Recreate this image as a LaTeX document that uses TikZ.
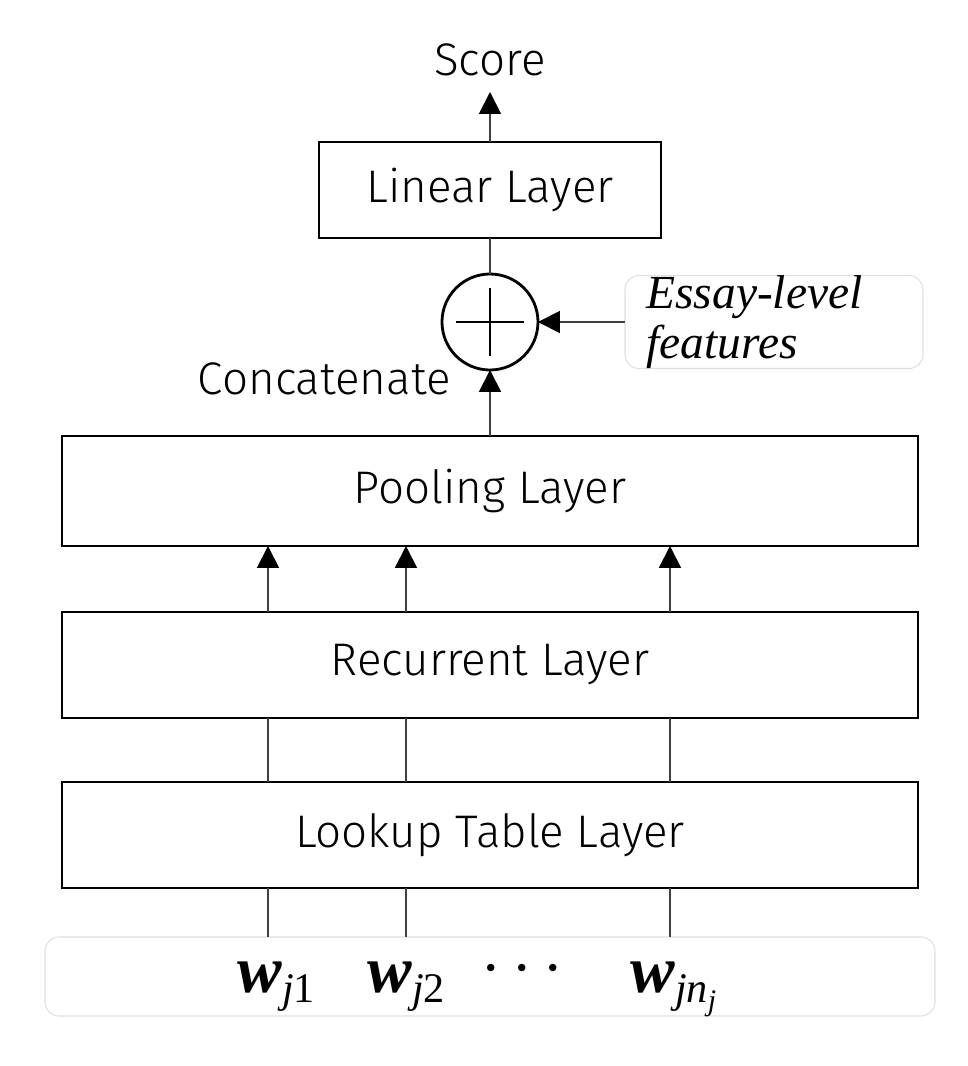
\documentclass[tikz,border=0pt]{standalone}
\usepackage{amsmath, amssymb}
\usepackage{fontspec}
\setmainfont{Fira Sans Light}
\newfontfamily\essayfont{Liberation Serif}
\usepackage{tikz}
\usetikzlibrary{arrows.meta, positioning, calc}
\tikzstyle{layer} = [rectangle, draw, line width=1.6pt, minimum height=2.12cm, minimum width=17.12cm, inner sep=0pt, outer sep=0pt, font=\fontsize{26}{30}\selectfont]
\tikzstyle{softbox} = [rectangle, draw=gray!25, rounded corners=8pt, line width=0.6pt, outer sep=0pt]
\tikzstyle{arrow} = [line width=1.1pt, draw=black!75, -{Triangle[length=0.44cm, width=0.44cm, black]}]
\tikzstyle{link} = [line width=1.1pt, draw=black!75]
\tikzstyle{word} = [font=\essayfont\fontsize{38}{38}\selectfont, inner sep=0pt]
\tikzstyle{caption} = [font=\fontsize{26}{30}\selectfont]

\begin{document}
\begin{tikzpicture}
    \useasboundingbox (-9.8,-1.79) rectangle (9.56,19.53);

    % Nodes - input words and layer stack
    \node (input) [softbox, minimum width=17.8cm, minimum height=1.58cm] at (0,0) {};
    \node (lookup) [layer, above=0.98cm of input] {Lookup Table Layer};
    \node (recur) [layer, above=1.28cm of lookup] {Recurrent Layer};
    \node (pool) [layer, above=1.32cm of recur, minimum height=2.2cm] {Pooling Layer};

    % Top part
    \node (plus) [circle, draw, line width=1.6pt, outer sep=0pt, minimum size=1.92cm, above=1.32cm of pool] {};
    \node (linear) [layer, minimum width=6.84cm, minimum height=1.92cm, above=0.72cm of plus] {Linear Layer};
    \node (score) [caption, inner sep=0pt, outer sep=0.32cm, above=1cm of linear] {Score};
    \node (essay) [softbox, right=1.74cm of plus, minimum width=5.96cm, minimum height=1.86cm, inner sep=0pt, text width=5.1cm, align=left, font=\essayfont\fontsize{27}{28}\selectfont\itshape] {Essay-level\\features};
    \node (concat) [caption, inner sep=0pt, anchor=base east] at ($(plus.south)+(-0.78,-0.5)$) {Concatenate};

    % Columns and words
    \coordinate (c1) at (-4.44,0);
    \coordinate (c2) at (-1.68,0);
    \coordinate (c3) at (3.6,0);
    \node (w1) [word, anchor=base west] at ($(c1)+(-0.62,-0.31)$) {\textbf{\textit{w}}\raisebox{-0.22cm}{\fontsize{24}{24}\selectfont\textit{j}1}};
    \node (w2) [word, anchor=base west] at ($(c2)+(-0.78,-0.31)$) {\textbf{\textit{w}}\raisebox{-0.22cm}{\fontsize{24}{24}\selectfont\textit{j}2}};
    \node (dots) [font=\Huge, scale=1.6, inner sep=0pt, anchor=base] at (0.76,-0.18) {$\cdots$};
    \node (wn) [word, anchor=base west] at ($(c3)+(-0.8,-0.31)$) {\textbf{\textit{w}}\raisebox{-0.22cm}{\fontsize{24}{24}\selectfont\textit{jn}\raisebox{-0.14cm}{\fontsize{17}{17}\selectfont\textit{j}}}};

    % Plus sign
    \draw [line width=1.6pt] ($(plus.center)+(-0.68,0)$) -- ($(plus.center)+(0.68,0)$);
    \draw [line width=1.6pt] ($(plus.center)+(0,-0.68)$) -- ($(plus.center)+(0,0.68)$);

    % Lines - words to lookup to recurrent
    \draw [link] (input.north -| c1) -- (lookup.south -| c1);
    \draw [link] (input.north -| c2) -- (lookup.south -| c2);
    \draw [link] (input.north -| c3) -- (lookup.south -| c3);
    \draw [link] (lookup.north -| c1) -- (recur.south -| c1);
    \draw [link] (lookup.north -| c2) -- (recur.south -| c2);
    \draw [link] (lookup.north -| c3) -- (recur.south -| c3);

    % Arrows - recurrent to pooling
    \draw [arrow] (recur.north -| c1) -- (pool.south -| c1);
    \draw [arrow] (recur.north -| c2) -- (pool.south -| c2);
    \draw [arrow] (recur.north -| c3) -- (pool.south -| c3);

    % Arrows - pooling to score
    \draw [arrow] (pool) -- (plus);
    \draw [arrow] (essay) -- (plus);
    \draw [link] (plus) -- (linear);
    \draw [arrow] (linear) -- (score);

\end{tikzpicture}
\end{document}
